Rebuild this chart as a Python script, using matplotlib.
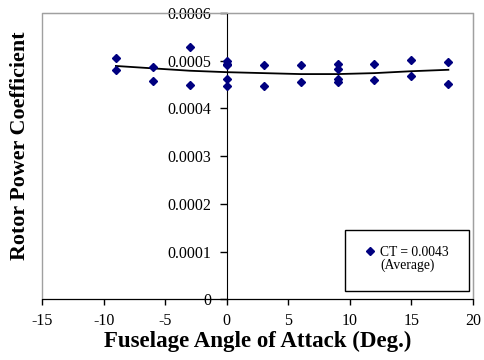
import numpy as np
import matplotlib.pyplot as plt
from matplotlib.lines import Line2D
from matplotlib.patches import Rectangle

plt.rcParams['font.family'] = ['Liberation Serif', 'DejaVu Serif']
plt.rcParams['axes.unicode_minus'] = False

# measured rotor power coefficient at each fuselage angle of attack
alpha = [-9, -9, -6, -6, -3, -3, 0, 0, 0, 0, 0, 3, 3, 6, 6,
         9, 9, 9, 9, 12, 12, 15, 15, 18, 18]
cp = [0.000505, 0.000481, 0.000486, 0.000458, 0.000528, 0.000450,
      0.000500, 0.000494, 0.000492, 0.000461, 0.000447,
      0.000491, 0.000448, 0.000490, 0.000456,
      0.000494, 0.000483, 0.000462, 0.000456,
      0.000494, 0.000459, 0.000502, 0.000468, 0.000497, 0.000452]

# trend line through the averages
trend_alpha = [-9, -6, -3, 0, 3, 6, 9, 12, 15, 18]
trend_cp = [0.000489, 0.000484, 0.000479, 0.000476, 0.000474,
            0.000472, 0.000472, 0.000474, 0.000478, 0.000481]

fig = plt.figure(figsize=(4.84, 3.6), dpi=100)
ax = fig.add_axes([42 / 484, 1 - 299.3 / 360, 431 / 484, 286.3 / 360])

ax.plot(trend_alpha, trend_cp, color='black', lw=1.3, zorder=2)
pts, = ax.plot(alpha, cp, linestyle='none', marker='D', ms=3.6,
               color='#000080', zorder=3)

ax.set_xlim(-15, 20)
ax.set_ylim(0, 0.0006)
ax.set_xticks(np.arange(-15, 21, 5))
ax.set_yticks(np.arange(0, 0.00061, 0.0001))
ax.set_yticklabels(['0', '0.0001', '0.0002', '0.0003', '0.0004', '0.0005', '0.0006'])

# y axis crosses at alpha = 0, plot area framed in grey
ax.spines['left'].set_position(('data', 0))
ax.spines['left'].set_color('black')
ax.spines['bottom'].set_color('black')
for side in ('top', 'right'):
    ax.spines[side].set_color('#a0a0a0')
ax.add_patch(Rectangle((0, 0), 1, 1, transform=ax.transAxes, fill=False,
                       edgecolor='#a0a0a0', lw=1, zorder=0, clip_on=False))

ax.tick_params(axis='x', direction='out', length=4, width=1, pad=6, labelsize=11.5)
ax.tick_params(axis='y', direction='out', length=5, width=1, pad=6, labelsize=11.5)

ax.set_xlabel('Fuselage Angle of Attack (Deg.)', fontsize=16.5, fontweight='bold',
              labelpad=1.5)
fig.text(20 / 484, 1 - 146 / 360, 'Rotor Power Coefficient', rotation=90,
         fontsize=15.8, fontweight='bold', ha='center', va='center')

# legend box
box = Rectangle((345 / 484, 1 - 291 / 360), 124 / 484, 61 / 360,
                transform=fig.transFigure, fill=True, facecolor='white',
                edgecolor='black', lw=1, zorder=5)
fig.patches.append(box)
blank = Line2D([], [], linestyle='none')
leg = fig.legend([pts, blank], ['CT = 0.0043', '(Average)'],
                 loc='upper left', bbox_to_anchor=(365 / 484, 1 - 246 / 360),
                 frameon=False, fontsize=9.8, handlelength=0.8,
                 handletextpad=0.3, labelspacing=0.0, borderpad=0,
                 borderaxespad=0)
leg.set_zorder(6)

fig.savefig('out.png', dpi=100)
